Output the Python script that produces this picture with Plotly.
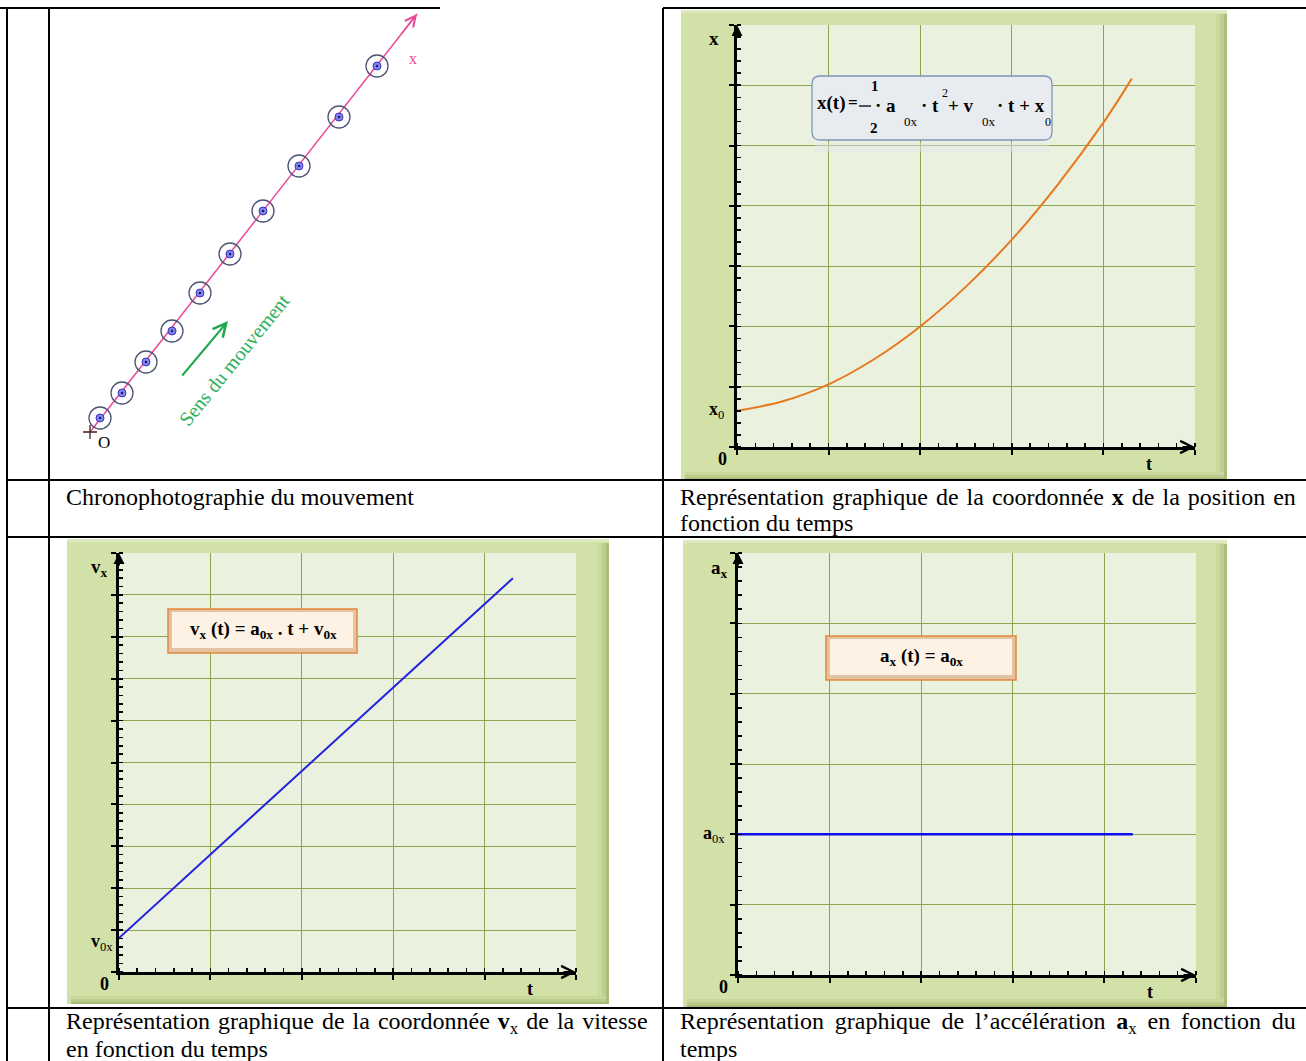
import plotly.graph_objects as go

W, H = 1306, 1061

# ---------------- data ----------------
# Chronophotography: successive positions of the mobile, relative to O (drawing units)
chrono_x = [9, 31, 55, 81, 109, 139, 172, 208, 248, 286]
chrono_y = [14, 39, 70, 101, 139, 178, 221, 266, 315, 366]
ox_line_x = [-1, 326]          # axis (O -> x) start / tip
ox_line_y = [0, 418]
move_arrow_x = [90, 137]       # "sens du mouvement" arrow tail / head
move_arrow_y = [55, 111]

# x(t) : position versus time (grid units)
t_pos = [0, 0.5, 1.0, 1.5, 2.0, 2.5, 3.0, 3.5, 4.0, 4.31]
x_pos = [0.60, 0.76, 1.04, 1.46, 2.0, 2.66, 3.44, 4.35, 5.38, 6.11]

# v_x(t) : velocity versus time
t_vel = [0, 1, 2, 3, 4.31]
v_vel = [0.81, 2.80, 4.80, 6.80, 9.40]

# a_x(t) : acceleration versus time
t_acc = [0, 4.31]
a_acc = [2.0, 2.0]

t_range = [0, 5]
x_range = [0, 7]
v_range = [0, 10]
a_range = [0, 6]

# ---------------- style ----------------
SERIF = "Liberation Serif"
FRAME = "#D2E1A7"
PANEL = "#EBF1DF"
GRID = "#8CA64E"
PINK = "#EC4796"
GREEN = "#1FA84E"


def px(x):
    return x / W


def py(y):
    return 1 - y / H


def rect(x0, y0, x1, y1, fill, line=None, layer="below"):
    return dict(type="rect", xref="paper", yref="paper",
                x0=px(x0), x1=px(x1), y0=py(y1), y1=py(y0),
                fillcolor=fill, line=line if line else dict(width=0), layer=layer)


def hline(x0, x1, y, w=2, color="black"):
    return dict(type="line", xref="paper", yref="paper", x0=px(x0), x1=px(x1),
                y0=py(y), y1=py(y), line=dict(color=color, width=w), layer="above")


def vline(x, y0, y1, w=2, color="black"):
    return dict(type="line", xref="paper", yref="paper", x0=px(x), x1=px(x),
                y0=py(y0), y1=py(y1), line=dict(color=color, width=w), layer="above")


def rounded_path(x0, y0, x1, y1, r):
    def p(x, y):
        return f"{px(x):.6f},{py(y):.6f}"
    return (f"M {p(x0 + r, y0)} L {p(x1 - r, y0)} Q {p(x1, y0)} {p(x1, y0 + r)} "
            f"L {p(x1, y1 - r)} Q {p(x1, y1)} {p(x1 - r, y1)} "
            f"L {p(x0 + r, y1)} Q {p(x0, y1)} {p(x0, y1 - r)} "
            f"L {p(x0, y0 + r)} Q {p(x0, y0)} {p(x0 + r, y0)} Z")


fig = go.Figure()

# ---------------- chronophotography traces ----------------
fig.add_trace(go.Scatter(x=ox_line_x, y=ox_line_y, mode="lines",
                         line=dict(color=PINK, width=1.5), xaxis="x", yaxis="y", hoverinfo="skip"))
fig.add_trace(go.Scatter(x=chrono_x, y=chrono_y, mode="markers",
                         marker=dict(symbol="circle-open", size=22, color="#4B5474", line=dict(width=1.3)),
                         xaxis="x", yaxis="y", hoverinfo="skip"))
fig.add_trace(go.Scatter(x=chrono_x, y=chrono_y, mode="markers",
                         marker=dict(symbol="circle", size=8, color="#8383F2",
                                     line=dict(color="#3838B8", width=1)),
                         xaxis="x", yaxis="y", hoverinfo="skip"))
fig.add_trace(go.Scatter(x=chrono_x, y=chrono_y, mode="markers",
                         marker=dict(symbol="circle", size=2.5, color="#1E1E5A"),
                         xaxis="x", yaxis="y", hoverinfo="skip"))
fig.add_trace(go.Scatter(x=[ox_line_x[0]], y=[ox_line_y[0]], mode="markers",
                         marker=dict(symbol="cross-thin-open", size=10, color="#4A1E1E", line=dict(width=1.3)),
                         xaxis="x", yaxis="y", hoverinfo="skip", cliponaxis=False))

# ---------------- kinematics curves ----------------
fig.add_trace(go.Scatter(x=t_pos, y=x_pos, mode="lines", line=dict(color="#E8781F", width=2, shape="spline"),
                         xaxis="x2", yaxis="y2", hoverinfo="skip", cliponaxis=False))
fig.add_trace(go.Scatter(x=t_vel, y=v_vel, mode="lines", line=dict(color="#2323DD", width=2),
                         xaxis="x3", yaxis="y3", hoverinfo="skip", cliponaxis=False))
fig.add_trace(go.Scatter(x=t_acc, y=a_acc, mode="lines", line=dict(color="#0D0DF0", width=2.5),
                         xaxis="x4", yaxis="y4", hoverinfo="skip", cliponaxis=False))

# ---------------- axes ----------------
panels = {
    2: (737, 25, 1195, 447, x_range),
    3: (119, 553, 576, 972, v_range),
    4: (738, 553, 1196, 975, a_range),
}


def chart_axis(domain, rng, anchor):
    return dict(domain=domain, range=rng, anchor=anchor, showgrid=True, gridcolor=GRID, gridwidth=1,
                zeroline=False, showline=True, linecolor="black", linewidth=3,
                ticks="outside", ticklen=5, tickwidth=2, tickcolor="black", showticklabels=False,
                tick0=0, dtick=1, fixedrange=True,
                minor=dict(ticks="inside", ticklen=4, tickwidth=1.6, tickcolor="black",
                           tick0=0, dtick=0.2, showgrid=False))


layout_axes = {}
layout_axes["xaxis"] = dict(domain=[px(49), px(663)], range=[49 - 91, 663 - 91], visible=False,
                            anchor="y", fixedrange=True)
layout_axes["yaxis"] = dict(domain=[py(480), py(8)], range=[432 - 480, 432 - 8], visible=False,
                            anchor="x", fixedrange=True)
for k, (x0, y0, x1, y1, yr) in panels.items():
    layout_axes[f"xaxis{k}"] = chart_axis([px(x0), px(x1)], t_range, f"y{k}")
    layout_axes[f"yaxis{k}"] = chart_axis([py(y1), py(y0)], yr, f"x{k}")

# ---------------- shapes ----------------
shapes = []
frames = [(681, 10, 1227, 480), (67, 539, 609, 1004), (683, 540, 1227, 1007)]
for (x0, y0, x1, y1) in frames:
    shapes.append(rect(x0, y0, x1, y1, FRAME))
    shapes.append(rect(x0, y0, x1, y0 + 3, "#DFE9C0"))
    shapes.append(rect(x1 - 11, y0 + 4, x1 - 7, y1, "#CADA9E"))
    shapes.append(rect(x1 - 7, y0 + 4, x1 - 3, y1, "#BDCE8E"))
    shapes.append(rect(x1 - 3, y0 + 4, x1, y1, "#A9BD7A"))
    shapes.append(rect(x0 + 4, y1 - 8, x1 - 3, y1 - 5, "#C9D99D"))
    shapes.append(rect(x0 + 4, y1 - 5, x1 - 3, y1 - 2, "#BACB8B"))
    shapes.append(rect(x0 + 4, y1 - 2, x1, y1, "#A8BC7A"))
for k, (x0, y0, x1, y1, yr) in panels.items():
    shapes.append(rect(x0, y0, x1, y1, PANEL))

# formula box 1 (rounded, grey-blue)
shapes.append(dict(type="path", xref="paper", yref="paper", path=rounded_path(812, 76, 1052, 140, 8),
                   fillcolor="#E8ECF1", line=dict(color="#7E95B6", width=1.3), layer="above"))
shapes.append(rect(815, 143, 1049, 152, "rgba(225,230,235,0.45)", layer="above"))
shapes.append(dict(type="line", xref="paper", yref="paper", x0=px(859), x1=px(871), y0=py(106), y1=py(106),
                   line=dict(color="black", width=1.3), layer="above"))

# formula boxes 2 & 3 (beveled, peach)
for (x0, y0, x1, y1) in [(168, 609, 357, 653), (826, 636, 1016, 680)]:
    shapes.append(rect(x0, y0, x1, y1, "#E4C3A2", line=dict(color="#E2883E", width=1.5), layer="above"))
    shapes.append(rect(x0 + 4, y0 + 3, x1 - 4, y1 - 5, "#FEF2E4", layer="above"))

# table grid
shapes += [
    hline(0, 440, 8), hline(663, 1306, 8),
    hline(7, 1306, 480), hline(7, 1306, 537), hline(7, 1306, 1008),
    vline(7, 8, 1061), vline(49, 8, 1061), vline(663, 8, 1061),
]

# ---------------- annotations ----------------
ann = []


def txt(x, y, text, size=17, color="black", xanchor="center", yanchor="middle", angle=0):
    ann.append(dict(x=px(x), y=py(y), xref="paper", yref="paper", text=text, showarrow=False,
                    xanchor=xanchor, yanchor=yanchor, textangle=angle,
                    font=dict(family=SERIF, size=size, color=color)))


# chronophotography labels / arrows
ann.append(dict(x=ox_line_x[1], y=ox_line_y[1], xref="x", yref="y",
                ax=ox_line_x[1] - (ox_line_x[1] - ox_line_x[0]) * 0.05,
                ay=ox_line_y[1] - (ox_line_y[1] - ox_line_y[0]) * 0.05,
                axref="x", ayref="y", text="", showarrow=True, arrowhead=5, arrowsize=1.4,
                arrowwidth=1.5, arrowcolor=PINK))
ann.append(dict(x=move_arrow_x[1], y=move_arrow_y[1], ax=move_arrow_x[0], ay=move_arrow_y[0],
                xref="x", yref="y", axref="x", ayref="y", text="", showarrow=True,
                arrowhead=5, arrowsize=1.3, arrowwidth=2, arrowcolor=GREEN))
ann.append(dict(x=ox_line_x[1] - 4, y=chrono_y[-1] + 7, xref="x", yref="y", text="x", showarrow=False,
                font=dict(family=SERIF, size=16, color=PINK)))
ann.append(dict(x=ox_line_x[0] + 14, y=ox_line_y[0] - 10, xref="x", yref="y", text="O", showarrow=False,
                font=dict(family=SERIF, size=17, color="black")))
txt(234, 360, "Sens du mouvement", size=20, color="#2BB05A", angle=-51)

# axis arrows + labels for the three charts
for k, (x0, y0, x1, y1, yr) in panels.items():
    ann.append(dict(x=t_range[1], y=0, xref=f"x{k}", yref=f"y{k}", ax=-14, ay=0, text="",
                    showarrow=True, arrowhead=5, arrowsize=1.2, arrowwidth=2, arrowcolor="black"))
    ann.append(dict(x=0, y=yr[1], xref=f"x{k}", yref=f"y{k}", ax=0, ay=14, text="",
                    showarrow=True, arrowhead=2, arrowsize=1.1, arrowwidth=2, arrowcolor="black"))
    ann.append(dict(x=0, y=0, xref=f"x{k}", yref=f"y{k}", text="<b>0</b>", showarrow=False,
                    xanchor="right", yanchor="top", xshift=-8, yshift=0,
                    font=dict(family=SERIF, size=18, color="black")))
    ann.append(dict(x=4.5, y=0, xref=f"x{k}", yref=f"y{k}", text="<b>t</b>", showarrow=False,
                    yanchor="top", yshift=-5, font=dict(family=SERIF, size=18, color="black")))

ann.append(dict(x=0, y=x_pos[0], xref="x2", yref="y2", text="<b>x</b><sub>0</sub>", showarrow=False,
                xanchor="right", xshift=-11, font=dict(family=SERIF, size=18, color="black")))
ann.append(dict(x=0, y=v_vel[0], xref="x3", yref="y3", text="<b>v</b><sub>0x</sub>", showarrow=False,
                xanchor="right", xshift=-4, yshift=-4, font=dict(family=SERIF, size=18, color="black")))
ann.append(dict(x=0, y=a_acc[0], xref="x4", yref="y4", text="<b>a</b><sub>0x</sub>", showarrow=False,
                xanchor="right", xshift=-11, font=dict(family=SERIF, size=18, color="black")))
txt(714, 39, "<b>x</b>", size=19)
txt(100, 568, "<b>v<sub>x</sub></b>", size=19)
txt(719, 569, "<b>a<sub>x</sub></b>", size=19)

# formula 1 (x(t) = 1/2 a0x t^2 + v0x t + x0)
txt(815, 103, "<b>x(t)</b>", size=19, xanchor="left")
txt(846, 102, "<b>=</b>", size=17, xanchor="left")
txt(875, 86, "<b>1</b>", size=15)
txt(874, 128, "<b>2</b>", size=15)
txt(873, 105, "<b>· a</b>", size=19, xanchor="left")
txt(902, 121, "0x", size=13, xanchor="left")
txt(919, 105, "<b>· t</b>", size=19, xanchor="left")
txt(940, 93, "2", size=12, xanchor="left")
txt(946, 105, "<b>+ v</b>", size=19, xanchor="left")
txt(980, 121, "0x", size=13, xanchor="left")
txt(995, 105, "<b>· t + x</b>", size=19, xanchor="left")
txt(1043, 122, "0", size=12, xanchor="left")

# formulas 2 & 3
txt(263, 630, "<b>v<sub>x</sub> (t) = a<sub>0x</sub> . t + v<sub>0x</sub></b>", size=19)
txt(921, 657, "<b>a<sub>x</sub> (t) = a<sub>0x</sub></b>", size=19)

# captions (justified lines approximated with extra thin / hair spaces)
CAP = 24
HS = " \u200a"   # space + hair space
TS = " \u2009"   # space + thin space
txt(64, 497, "Chronophotographie du mouvement", size=CAP, xanchor="left")
txt(678, 497, HS.join("Représentation graphique de la coordonnée <b>x</b> de la position en".split(" ")),
    size=CAP, xanchor="left")
txt(678, 523, "fonction du temps", size=CAP, xanchor="left")
txt(64, 1023, HS.join("Représentation graphique de la coordonnée <b>v</b><sub>x</sub> de la vitesse".split(" ")),
    size=CAP, xanchor="left")
txt(64, 1049, "en fonction du temps", size=CAP, xanchor="left")
txt(678, 1023, TS.join("Représentation graphique de l’accélération <b>a</b><sub>x</sub> en fonction du".split(" ")),
    size=CAP, xanchor="left")
txt(678, 1049, "temps", size=CAP, xanchor="left")

fig.update_layout(width=W, height=H, autosize=False, margin=dict(l=0, r=0, t=0, b=0, pad=0),
                  paper_bgcolor="white", plot_bgcolor="rgba(0,0,0,0)", showlegend=False,
                  shapes=shapes, annotations=ann, hovermode=False, **layout_axes)

fig.write_html("out.html", config={"displayModeBar": False, "staticPlot": True},
               post_script="document.body.style.margin='0px'; document.body.style.overflow='hidden';")
